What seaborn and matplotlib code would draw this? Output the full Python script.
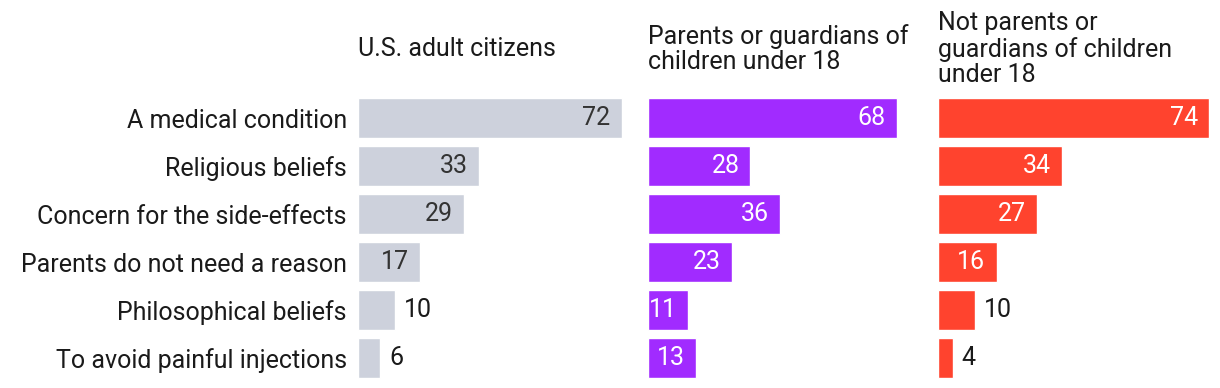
import matplotlib
matplotlib.use("Agg")
import matplotlib.pyplot as plt
import seaborn as sns
import pandas as pd

# dane
reasons = ["A medical condition", "Religious beliefs", "Concern for the side-effects",
           "Parents do not need a reason", "Philosophical beliefs", "To avoid painful injections"]
groups = ["U.S. adult citizens",
          "Parents or guardians of\nchildren under 18",
          "Not parents or\nguardians of children\nunder 18"]
adults = [72, 33, 29, 17, 10, 6]
parents = [68, 28, 36, 23, 11, 13]
non_parents = [74, 34, 27, 16, 10, 4]

colors = ["#cdd1dc", "#a12bff", "#ff432e"]
inside_text = ["#333333", "white", "white"]

sns.set_style("white")
plt.rcParams["font.family"] = ["Roboto", "DejaVu Sans"]

W, H = 1220, 388
fig = plt.figure(figsize=(W / 100, H / 100), dpi=100)

lefts = [358, 648, 938]
ax_w = 280
unit = 3.66  # px na punkt procentowy
fs = 18
for i, (vals, name) in enumerate(zip([adults, parents, non_parents], groups)):
    ax = fig.add_axes([lefts[i] / W, (H - 382) / H, ax_w / W, 288 / H])
    df = pd.DataFrame({"reason": reasons, "value": vals})
    sns.barplot(data=df, x="value", y="reason", color=colors[i], ax=ax,
                width=0.83, saturation=1, orient="h")
    ax.set_xlim(0, ax_w / unit)
    ax.set_ylim(5.5, -0.5)
    ax.set_xlabel("")
    ax.set_ylabel("")
    ax.set_xticks([])
    sns.despine(ax=ax, left=True, bottom=True)
    if i == 0:
        ax.tick_params(axis="y", length=0, pad=8, labelsize=fs, labelcolor="#1a1a1a")
    else:
        ax.set_yticks([])

    # etykiety wartości
    for j, v in enumerate(vals):
        if v > 10:
            ax.annotate(str(v), (v, j), xytext=(-11, 0), textcoords="offset pixels",
                        ha="right", va="center", fontsize=fs, color=inside_text[i])
        else:
            ax.annotate(str(v), (v, j), xytext=(9, 0), textcoords="offset pixels",
                        ha="left", va="center", fontsize=fs, color="#1a1a1a")

    fig.text(lefts[i] / W, 1 - 49 / H, name, ha="left", va="center",
             fontsize=fs, linespacing=1.1, color="#1a1a1a")

plt.savefig("out.png", dpi=100)
